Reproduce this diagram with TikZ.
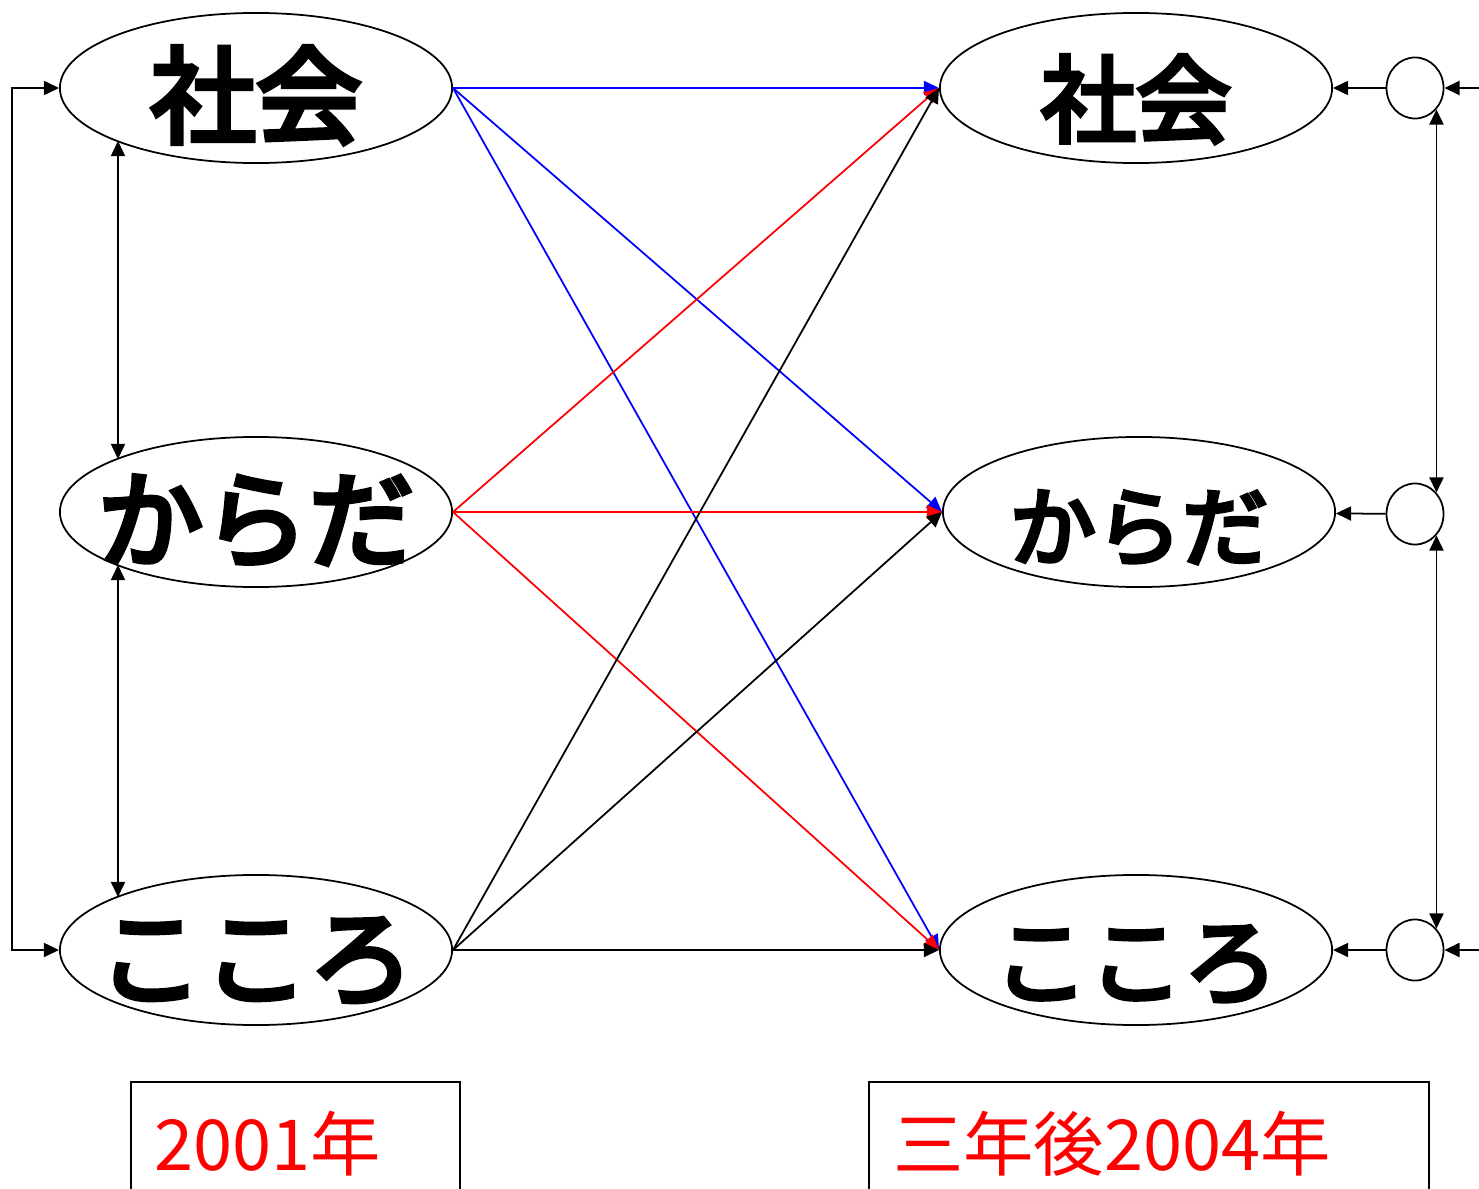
\documentclass[tikz,border=0pt]{standalone}
\usepackage{fontspec}
\newfontfamily\jpfont{Noto Sans CJK JP}
\newfontfamily\jpheavy[FakeBold=5]{Noto Sans CJK JP}
\usetikzlibrary{arrows.meta,shapes.geometric}
\definecolor{pathblue}{HTML}{0000FF}
\definecolor{pathred}{HTML}{FF0000}
\tikzset{
  factor/.style={
    ellipse, draw=black, line width=0.5pt,
    minimum width=3.92cm, minimum height=1.5cm,
    inner sep=0pt, text height=0.94cm, text depth=0pt,
    font=\jpheavy\fontsize{#1}{#1}\selectfont
  },
  factor/.default=30pt,
  errcircle/.style={ellipse, draw=black, line width=0.5pt,
    minimum width=0.57cm, minimum height=0.61cm, inner sep=0pt},
  patharrow/.style={
    -{Triangle[length=4.3pt,width=4pt]}, line width=0.5pt, color=#1
  },
  patharrow/.default=black,
  corrarrow/.style={
    {Triangle[length=4.3pt,width=4pt]}-{Triangle[length=4.3pt,width=4pt]},
    line width=0.5pt
  },
  yearbox/.style={rectangle, draw=black, line width=0.6pt, anchor=north west,
    minimum height=1.24cm, inner xsep=0.24cm, align=left, text=pathred,
    font=\jpfont\fontsize{20pt}{24pt}\selectfont},
}
\begin{document}
\begin{tikzpicture}[x=0.01cm,y=-0.01cm]
\path[use as bounding box, clip] (0,0) rectangle (1479,1188);
% 2001
\node[factor] (s1) at (256,88) {\makebox[0pt]{社会}};
\node[factor] (b1) at (256,512) {\makebox[0pt]{からだ}};
\node[factor] (k1) at (256,950) {\makebox[0pt]{こころ}};
% 2004
\node[factor=27pt] (s2) at (1136,88) {\makebox[0pt]{社会}};
\node[factor=24.5pt] (b2) at (1139,512) {\makebox[0pt]{からだ}};
\node[factor=27pt] (k2) at (1136,950) {\makebox[0pt]{こころ}};
% residuals
\node[errcircle] (e1) at (1415,88) {};
\node[errcircle] (e2) at (1415,514) {};
\node[errcircle] (e3) at (1415,950) {};
\coordinate (in1) at (1495,88);
\coordinate (in3) at (1495,950);
% cross-lagged paths
\foreach \src/\col in {s1/pathblue,b1/pathred,k1/black}
  \foreach \dst in {s2,b2,k2}
    \draw[patharrow=\col] (\src.east) -- (\dst.west);
% correlations
\draw[corrarrow] ([shift={(-138,53)}]s1.center) -- ([shift={(-138,-53)}]b1.center);
\draw[corrarrow] ([shift={(-138,53)}]b1.center) -- ([shift={(-138,-53)}]k1.center);
\draw[corrarrow] (s1.west) -- ++(-47,0) |- (k1.west);
\draw[corrarrow] (e1.-45) -- (e2.45);
\draw[corrarrow] (e2.-45) -- (e3.45);
\draw[patharrow] (in1) -- (e1);
\draw[patharrow] (in3) -- (e3);
\draw[patharrow] (e1) -- (s2);
\draw[patharrow] (e2) -- (b2);
\draw[patharrow] (e3) -- (k2);
% years
\node[yearbox, text width=2.83cm, inner xsep=0.23cm] (y1) at (130,1081) {2001年};
\node[yearbox, text width=5.12cm] (y2) at (868,1081) {三年後2004年};
\end{tikzpicture}
\end{document}
